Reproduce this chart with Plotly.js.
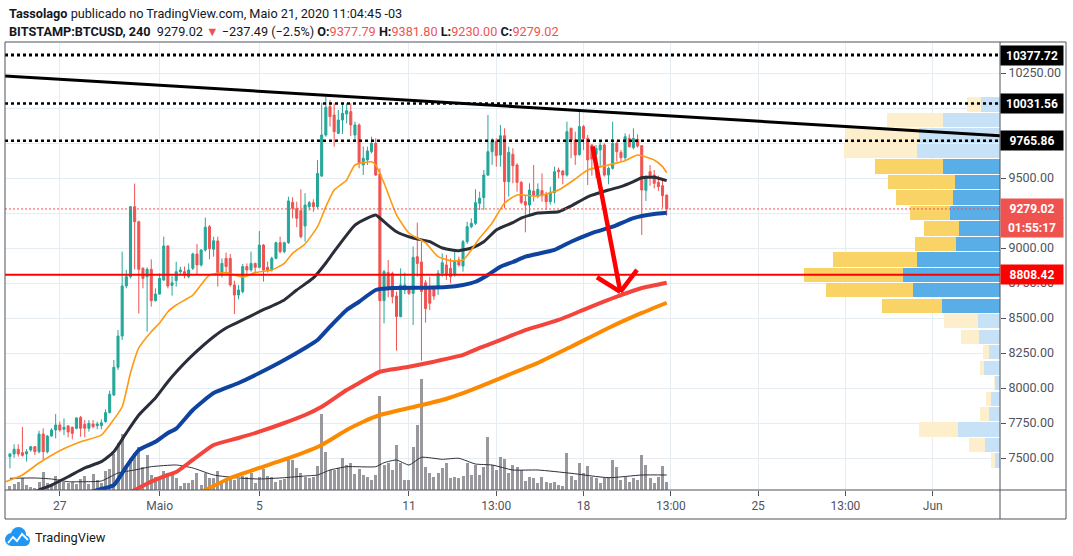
<!DOCTYPE html>
<html><head><meta charset="utf-8">
<script src="https://cdn.plot.ly/plotly-3.0.1.min.js"></script>
<style>html,body{margin:0;padding:0;background:#fff;}#chart{width:1073px;height:556px;}</style>
</head><body><div id="chart"></div>
<script>
// ---------- DATA ----------
const candleOpen=[7510,7529,7562,7538,7529,7557,7581,7545,7671,7545,
7657,7700,7736,7705,7729,7719,7712,7790,7740,7712,
7743,7731,7731,7760,7824,7950,8148,8371,8729,8795,
9295,9188,8855,8795,8848,8624,8671,8771,9014,8733,
8767,8831,8831,8795,8855,8957,8879,8986,9152,8991,
9050,8819,8926,8926,8736,8664,8688,8867,8843,8890,
8862,9021,8862,8843,8926,9038,8974,9038,9326,9283,
9267,9157,9295,9324,9295,9514,9807,10010,9950,9819,
9914,9957,9974,9807,9879,9593,9629,9688,9748,9529,
8624,8824,8819,8657,8510,8700,8712,8676,8938,8900,
8752,8719,8712,8712,8819,8879,8855,8807,8914,8871,
9045,9152,9176,9319,9360,9521,9688,9760,9664,9802,
9474,9669,9593,9469,9331,9307,9407,9374,9410,9383,
9331,9395,9557,9550,9521,9855,9771,9667,9867,9783,
9736,9667,9700,9736,9521,9569,9748,9683,9645,9783,
9717,9776,9731,9412,9545,9521,9469,9445,9377.79];
const candleHigh=[7535,7598,7598,7721,7564,7586,7586,7695,7712,7664,
7712,7814,7760,7783,7736,7724,7790,7800,7771,7771,
7771,7760,7776,7848,7981,8200,8414,8974,8843,9300,
9460,9195,8862,8862,8919,8712,8819,9081,9020,8800,
8902,8867,8867,8890,8967,9029,8991,9217,9164,9081,
9081,8926,8967,8957,8767,8736,8886,8890,8974,8895,
9121,9029,8902,8938,9045,9081,9045,9367,9362,9331,
9419,9391,9336,9348,9629,10038,10081,10057,10033,9986,
10033,10033,10033,9902,9890,9724,9724,9795,9783,9569,
8843,8914,8831,8688,8855,8824,8724,9010,9181,9045,
8771,8795,8724,8843,8962,8950,8926,8986,8938,9057,
9188,9212,9419,9402,9557,9950,9783,9783,9879,9855,
9724,9712,9605,9479,9379,9462,9593,9462,9533,9402,
9438,9581,9574,9557,9902,9860,9831,9974,9879,9807,
9740,9736,9760,9748,9581,9902,9760,9700,9819,9812,
9855,9812,9736,9521,9593,9557,9517,9486,9381.80];
const candleLow=[7426,7502,7510,7510,7474,7545,7521,7533,7481,7533,
7652,7640,7688,7664,7648,7633,7705,7652,7648,7688,
7712,7705,7705,7752,7819,7943,8129,8343,8712,8783,
8848,8533,8712,8402,8581,8617,8667,8766,8712,8660,
8724,8807,8783,8783,8843,8814,8867,8974,8919,8938,
8724,8790,8814,8724,8529,8633,8676,8814,8831,8819,
8855,8760,8824,8831,8919,8962,8962,9029,9212,9148,
9069,9045,9267,9259,9283,9507,9795,9867,9724,9814,
9814,9890,9800,9771,9569,9521,9593,9676,9514,8105,
8462,8648,8605,8267,8505,8671,8664,8450,8795,8195,
8467,8557,8629,8664,8795,8771,8748,8795,8867,8831,
9029,9141,9164,9271,9271,9514,9593,9581,9581,9283,
9367,9462,9402,9312,9112,9224,9331,9355,9331,9271,
9310,9319,9498,9455,9510,9641,9593,9660,9700,9450,
9517,9498,9574,9510,9455,9560,9617,9617,9629,9717,
9705,9717,9093,9336,9445,9426,9407,9288,9230.00];
const candleClose=[7529,7562,7529,7519,7545,7581,7545,7671,7545,7657,
7700,7736,7700,7719,7686,7676,7786,7712,7712,7748,
7724,7743,7752,7824,7955,8148,8371,8729,8795,9295,
9188,8848,8783,8848,8624,8671,8783,9014,8729,8752,
8831,8843,8807,8843,8957,8879,8986,9148,8995,9052,
8824,8890,8867,8736,8664,8700,8867,8843,8890,8862,
9021,8843,8843,8926,9038,8974,9038,9336,9283,9212,
9081,9307,9324,9295,9533,9807,10005,9938,9831,9914,
9962,9981,9879,9879,9610,9641,9693,9748,9521,8624,
8831,8724,8652,8510,8736,8736,8676,8933,8890,8690,
8567,8605,8657,8819,8895,8807,8795,8910,8879,9045,
9152,9176,9324,9355,9521,9688,9760,9660,9802,9474,
9683,9588,9469,9326,9307,9414,9379,9419,9374,9331,
9398,9545,9545,9521,9831,9771,9664,9867,9783,9629,
9636,9712,9736,9521,9569,9748,9688,9645,9795,9724,
9783,9728,9414,9502,9502,9462,9438,9374,9279.02];
const volume=[4,6,8.3,11.7,5,3.3,1.7,8.3,17.7,6.7,6,14,10.7,8.3,7.3,8.3,6,11,14,6,
16,10,6.7,19,20.7,36,46.7,56,22.3,31.7,37.3,43.3,23.3,34.7,15,13.3,13.3,19.3,16.7,18.3,
11.7,4,6.7,6.7,10,16.7,5,17.3,11.7,11.7,19.3,8.3,10,14,10,10.7,14,13.3,17.3,6.7,
13.3,20.7,14,13.3,8.3,10,10.7,31.7,30,21.7,17.3,13.3,11.7,13.3,24,75.7,38.3,20,20,21.7,31.7,
25,27,16,21,15,13,10,15,94,25,27,20,45,27,10,10,43,65,111,23,
17,13,17,22,27,12,13,12,14,27,15,25,15,23,53,25,20,33,31,
17,25,23,20,9,13,12,7,13,8,7,8,5,4,37,14,10,27,17,24,
13,12,7,12,13,30,23,10,13,8,12,10,35,25,12,7,13,24,8];
// moving averages sampled at candle indices
const emaFastIdx=[-1,3,7,12,17,22,24,27,29,31,34,36,38,40,44,48,52,56,59,63,66,68,71,74,76,78,81,83,87,88,90,93,96,100,103,106,109,111,113,116,119,122,127,132,136,139,144,148,151,155,157,158];
const emaFastVal=[7331,7379,7464,7552,7616,7664,7736,7866,8107,8286,8402,8464,8545,8593,8664,8807,8824,8791,8824,8843,8891,8962,9029,9152,9295,9414,9486,9593,9616,9593,9464,9236,9107,9036,8938,8909,8914,8986,9071,9179,9321,9379,9371,9414,9493,9557,9593,9624,9664,9629,9581,9538];
const emaMidIdx=[2,7,10,14,18,22,25,28,31,35,38,40,44,49,52,56,60,66,69,73,76,78,83,86,88,90,93,97,101,104,108,111,114,117,121,123,127,132,135,139,144,147,150,152,155,158];
const emaMidVal=[7210,7271,7307,7366,7429,7474,7545,7679,7807,7929,8045,8114,8236,8366,8429,8486,8545,8629,8700,8786,8893,8975,9164,9214,9236,9188,9116,9071,9045,9000,8981,9000,9045,9129,9181,9214,9250,9259,9300,9366,9414,9438,9474,9502,9505,9481];
const ema100Idx=[14,21,25,28,31,35,38,40,44,49,55,60,66,71,74,77,81,84,88,92,100,105,109,112,115,118,121,124,131,135,140,145,150,155,158];
const ema100Val=[7210,7271,7307,7438,7557,7616,7679,7710,7843,7964,8036,8107,8200,8286,8343,8438,8557,8616,8700,8714,8716,8721,8736,8759,8807,8866,8900,8938,8986,9045,9107,9152,9214,9243,9252];
const ema200Idx=[26,30,34,38,40,44,49,55,60,66,71,75,81,84,89,96,102,109,113,117,121,124,132,139,146,152,158];
const ema200Val=[7211,7271,7331,7379,7400,7486,7593,7643,7688,7750,7807,7866,7986,8036,8116,8152,8188,8236,8286,8331,8379,8414,8486,8571,8652,8714,8752];
const ema300Idx=[43,47,53,60,68,75,81,85,89,96,104,110,116,121,127,135,144,152,158];
const ema300Val=[7215,7271,7357,7429,7509,7593,7700,7759,7807,7857,7914,7974,8045,8107,8179,8295,8429,8536,8609];
const volMaIdx=[0,6,10,14,18,22,26,30,34,40,44,49,55,60,66,71,74,77,81,88,90,93,96,99,104,108,112,116,121,127,135,144,152,158];
const volMaVal=[11.7,12,11,8.3,8.3,9,17,20,23.3,25,22,15,12,11,12.3,14,15,20,23.3,23.3,27.3,30,25,32.7,30.7,31.7,26,25,20,20,16.7,12.3,15,15];
// volume profile rows (bottom -> top)
const vpLow=7426, vpStep=110.6;
const vpUp=[5,15,42,11,9,4.7,16,11,21,22,58,86.7,97.3,83.3,44,41,50,47.3,45,57.3,83.3,81,57.3,19];
const vpDown=[4,16,39,9,5,1.3,4,6,18,34,60,87.3,98.7,83.7,41,35,40,56.7,67,67.7,72.7,73.3,55.4,14.3];
const vpValueArea=[10,19];
// levels and drawings
const dottedLevels=[10377.72,10031.56,9765.86];
const supportLevel=8808.42;
const lastPrice=9279.02;
const countdown='01:55:17';
const trendTime=['2020-04-24 20:15','2020-06-03 17:45'];
const trendPrice=[10229,9802];
const arrowTime=['2020-05-18 09:40','2020-05-19 12:25','2020-05-18 13:55','2020-05-20 04:25'];
const arrowPrice=[9726,8686,8791,8843];
const priceTicks=[7500,7750,8000,8250,8500,8750,9000,9250,9500,9750,10000,10250];
const priceTickText=['7500.00','7750.00','8000.00','8250.00','8500.00','8750.00','9000.00','','9500.00','','','10250.00'];
const timeTickVals=['2020-04-27 01:00','2020-05-01 01:00','2020-05-05 01:00','2020-05-11 01:00','2020-05-14 13:00','2020-05-18 01:00','2020-05-21 13:00','2020-05-25 01:00','2020-05-28 13:00','2020-06-01 01:00'];
const timeTickText=['27','Maio','5','11','13:00','18','13:00','25','13:00','Jun'];

// ---------- helpers ----------
function candleTime(i){
  const d=new Date(Date.UTC(2020,3,25,1,0)+i*4*3600000);
  const p=n=>String(n).padStart(2,'0');
  return d.getUTCFullYear()+'-'+p(d.getUTCMonth()+1)+'-'+p(d.getUTCDate())+' '+p(d.getUTCHours())+':'+p(d.getUTCMinutes());
}
const pxX=px=>(px-5)/995;
const pxY=py=>(490-py)/447;
const times=candleOpen.map((_,i)=>candleTime(i));
const FONT='Roboto, "Liberation Sans", sans-serif';
const AX='#50535e';
const GRID='#e6edf2';

const vpCenters=vpUp.map((_,k)=>vpLow+(k+0.5)*vpStep);
const inVA=k=>k>=vpValueArea[0]&&k<=vpValueArea[1];

function maTrace(idx,val,color,width){
  return {type:'scatter',mode:'lines',x:idx.map(candleTime),y:val,xaxis:'x',yaxis:'y2',
    line:{color:color,width:width,shape:'spline',smoothing:0.5},hoverinfo:'skip'};
}

const data=[
  {type:'bar',x:times,y:volume,xaxis:'x',yaxis:'y',width:4*3600000*0.72,
   marker:{color:'rgba(128,128,132,0.8)',line:{width:0}},hoverinfo:'skip'},
  {type:'scatter',mode:'lines',x:volMaIdx.map(candleTime),y:volMaVal,xaxis:'x',yaxis:'y',
   line:{color:'#2a2e39',width:1,shape:'spline',smoothing:0.5},hoverinfo:'skip'},
  {type:'bar',orientation:'h',x:vpUp,y:vpCenters,xaxis:'x2',yaxis:'y2',width:vpStep-8,
   marker:{color:vpUp.map((_,k)=>inVA(k)?'#5aaee8':'#c7e2f6'),line:{width:0}},hoverinfo:'skip'},
  {type:'bar',orientation:'h',x:vpDown,y:vpCenters,xaxis:'x2',yaxis:'y2',width:vpStep-8,
   marker:{color:vpDown.map((_,k)=>inVA(k)?'#fad366':'#fdefcc'),line:{width:0}},hoverinfo:'skip'},
  {type:'candlestick',x:times,open:candleOpen,high:candleHigh,low:candleLow,close:candleClose,
   xaxis:'x',yaxis:'y2',whiskerwidth:0,hoverinfo:'skip',
   increasing:{line:{color:'#26a69a',width:1},fillcolor:'#26a69a'},
   decreasing:{line:{color:'#ef5350',width:1},fillcolor:'#ef5350'}},
  maTrace(ema300Idx,ema300Val,'#fb8a00',4),
  maTrace(ema200Idx,ema200Val,'#f4453c',4),
  maTrace(ema100Idx,ema100Val,'#0f43a0',4),
  maTrace(emaMidIdx,emaMidVal,'#2a2e39',3),
  maTrace(emaFastIdx,emaFastVal,'#ff9a10',1.6)
];

const shapes=[];
dottedLevels.forEach((lv,i)=>shapes.push({type:'line',xref:'paper',yref:'y2',x0:0,x1:1,y0:lv,y1:lv,
  line:{color:'#000',width:i===0?3:2.5,dash:'dot'},layer:'above'}));
shapes.push({type:'line',xref:'paper',yref:'y2',x0:0,x1:1,y0:supportLevel,y1:supportLevel,line:{color:'#ff0000',width:2},layer:'above'});
shapes.push({type:'line',xref:'paper',yref:'y2',x0:0,x1:1,y0:lastPrice,y1:lastPrice,line:{color:'#ef5350',width:1,dash:'2px,2px'},layer:'above'});
shapes.push({type:'line',xref:'x',yref:'y2',x0:trendTime[0],x1:trendTime[1],y0:trendPrice[0],y1:trendPrice[1],line:{color:'#000',width:3},layer:'above'});
[[0,1],[2,1],[3,1]].forEach(([a,b])=>shapes.push({type:'line',xref:'x',yref:'y2',
  x0:arrowTime[a],x1:arrowTime[b],y0:arrowPrice[a],y1:arrowPrice[b],line:{color:'#ff0000',width:4.5},layer:'above'}));
// frame
const fr={color:AX,width:1};
const R=pxX(1066),B=pxY(519),T=pxY(42);
shapes.push({type:'line',xref:'paper',yref:'paper',x0:0,x1:R,y0:T,y1:T,line:fr});
shapes.push({type:'line',xref:'paper',yref:'paper',x0:0,x1:R,y0:B,y1:B,line:fr});
shapes.push({type:'line',xref:'paper',yref:'paper',x0:0,x1:0,y0:B,y1:T,line:fr});
shapes.push({type:'line',xref:'paper',yref:'paper',x0:R,x1:R,y0:B,y1:T,line:fr});
shapes.push({type:'line',xref:'paper',yref:'paper',x0:1,x1:1,y0:B,y1:T,line:fr});
shapes.push({type:'line',xref:'paper',yref:'paper',x0:0,x1:R,y0:0,y1:0,line:fr});
// TradingView logo
const LOGO='#2196f3';
shapes.push({type:'circle',xref:'paper',yref:'paper',x0:pxX(5),x1:pxX(18),y0:pxY(546),y1:pxY(533),fillcolor:LOGO,line:{width:0}});
shapes.push({type:'circle',xref:'paper',yref:'paper',x0:pxX(11),x1:pxX(26),y0:pxY(542),y1:pxY(527),fillcolor:LOGO,line:{width:0}});
shapes.push({type:'circle',xref:'paper',yref:'paper',x0:pxX(19),x1:pxX(30),y0:pxY(546),y1:pxY(535),fillcolor:LOGO,line:{width:0}});
shapes.push({type:'rect',xref:'paper',yref:'paper',x0:pxX(11),x1:pxX(25),y0:pxY(546),y1:pxY(539),fillcolor:LOGO,line:{width:0}});
shapes.push({type:'path',xref:'paper',yref:'paper',
  path:'M'+pxX(8)+','+pxY(543)+' L'+pxX(13)+','+pxY(537)+' L'+pxX(17)+','+pxY(541)+' L'+pxX(22)+','+pxY(534)+' L'+pxX(28)+','+pxY(540),
  line:{color:'#fff',width:1.8}});

const annotations=[];
function priceBox(y,text,bg,yshift){
  annotations.push({xref:'paper',yref:'y2',x:1,y:y,xanchor:'left',yanchor:'middle',yshift:yshift||0,
    text:'<b>'+text+'</b>',showarrow:false,bgcolor:bg,borderpad:2,width:58,height:15,align:'center',
    font:{family:FONT,size:12,color:'#fff'}});
}
dottedLevels.forEach(lv=>priceBox(lv,lv.toFixed(2),'#000'));
priceBox(lastPrice,lastPrice.toFixed(2),'#ef5350');
priceBox(lastPrice,countdown,'#ef5350',-19);
priceBox(supportLevel,supportLevel.toFixed(2),'#ff0000');

const RED='#ef5350';
annotations.push({xref:'paper',yref:'paper',x:pxX(7),y:pxY(14),xanchor:'left',yanchor:'middle',showarrow:false,
  text:'<b>Tassolago</b> publicado no TradingView.com, Maio 21, 2020 11:04:45 -03',
  font:{family:FONT,size:12.7,color:'#131722'}});
annotations.push({xref:'paper',yref:'paper',x:pxX(7),y:pxY(31),xanchor:'left',yanchor:'middle',showarrow:false,
  text:'<b>BITSTAMP:BTCUSD, 240</b>  '+candleClose[158].toFixed(2)+' <span style="color:'+RED+'">▼</span> −237.49 (−2.5%) '+
   '<b>O:</b><span style="color:'+RED+'">'+candleOpen[158].toFixed(2)+'</span> '+
   '<b>H:</b><span style="color:'+RED+'">'+candleHigh[158].toFixed(2)+'</span> '+
   '<b>L:</b><span style="color:'+RED+'">'+candleLow[158].toFixed(2)+'</span> '+
   '<b>C:</b><span style="color:'+RED+'">'+candleClose[158].toFixed(2)+'</span>',
  font:{family:FONT,size:12.7,color:'#131722'}});
annotations.push({xref:'paper',yref:'paper',x:pxX(33),y:pxY(537),xanchor:'left',yanchor:'middle',showarrow:false,
  text:'TradingView',font:{family:FONT,size:12.8,color:'#131722'}});

const layout={
  width:1073,height:556,margin:{l:5,r:73,t:43,b:66},
  paper_bgcolor:'#fff',plot_bgcolor:'#fff',showlegend:false,barmode:'stack',bargap:0,
  font:{family:FONT,color:AX},
  xaxis:{type:'date',range:['2020-04-24 20:15','2020-06-03 17:45'],tickvals:timeTickVals,ticktext:timeTickText,
    showgrid:true,gridcolor:GRID,gridwidth:1,zeroline:false,showline:false,ticks:'outside',ticklen:5,tickcolor:AX,
    tickfont:{family:FONT,size:12,color:'#50535e'},rangeslider:{visible:false},fixedrange:true},
  xaxis2:{overlaying:'x',anchor:'y2',range:[995,0],visible:false,fixedrange:true},
  yaxis:{range:[0,447],visible:false,showgrid:false,zeroline:false,fixedrange:true},
  yaxis2:{overlaying:'y',side:'right',anchor:'x',range:[7271.4,10464.3],tickvals:priceTicks,ticktext:priceTickText,
    showgrid:true,gridcolor:GRID,gridwidth:1,zeroline:false,showline:false,ticks:'outside',ticklen:5,tickcolor:AX,
    tickfont:{family:FONT,size:12.5,color:'#50535e'},fixedrange:true},
  shapes:shapes,annotations:annotations
};
Plotly.newPlot('chart',data,layout,{displayModeBar:false,staticPlot:true});
</script></body></html>
